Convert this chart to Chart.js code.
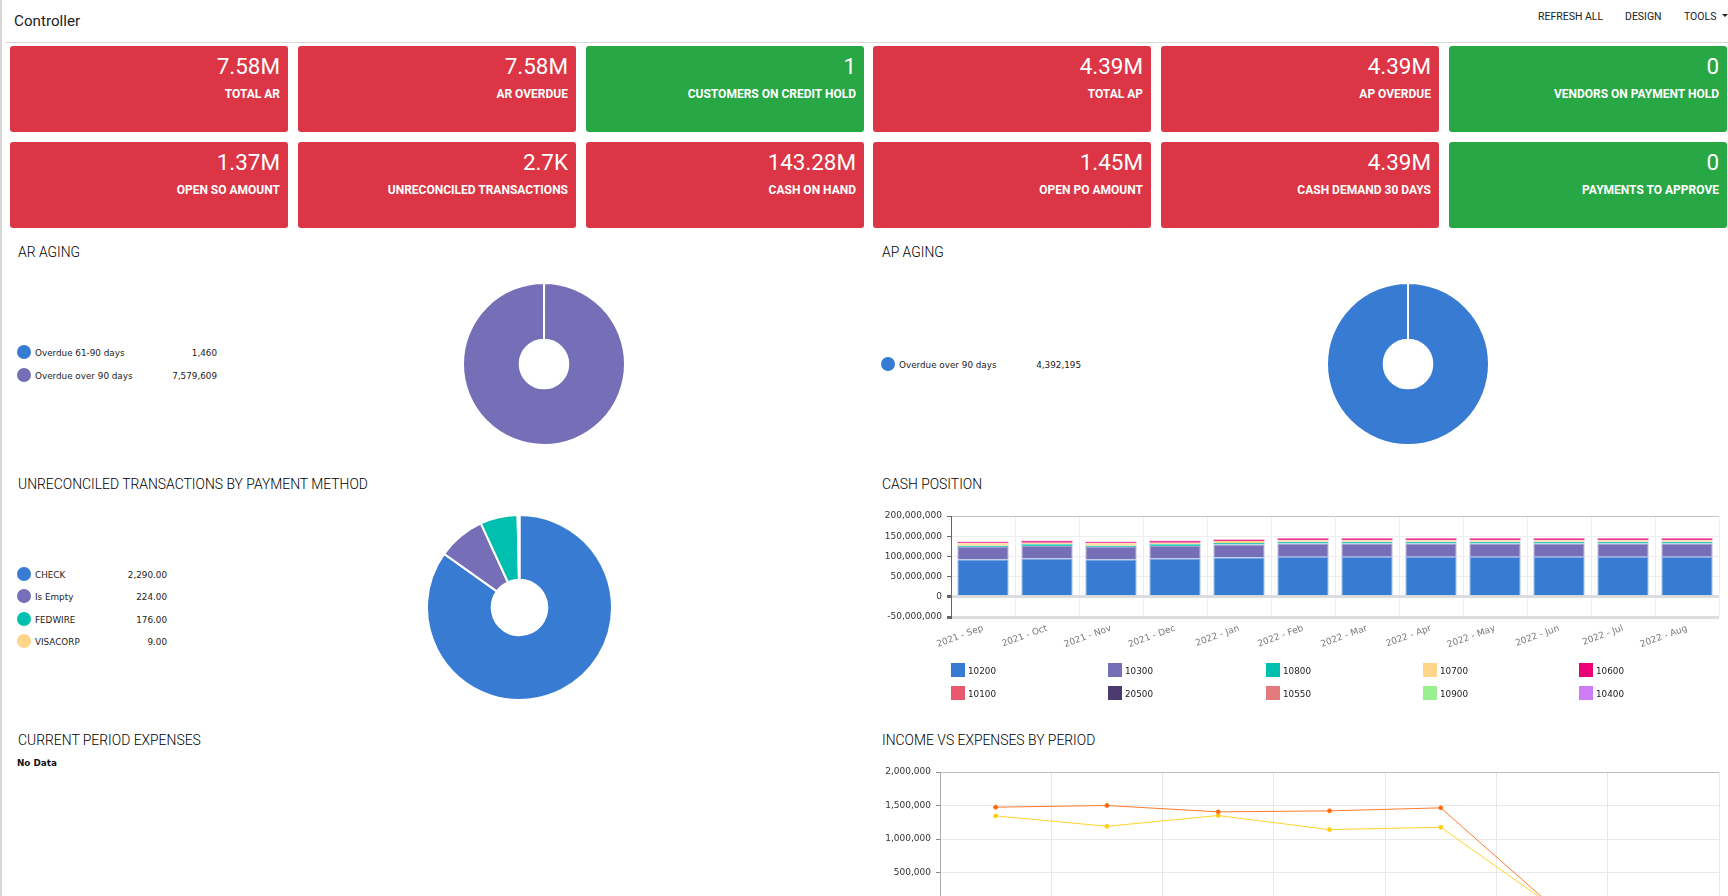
<!DOCTYPE html>
<html>
<head>
<meta charset="utf-8">
<title>Controller</title>
<script src="https://cdn.jsdelivr.net/npm/chart.js@4"></script>
<style>
  html, body { margin: 0; padding: 0; background: #fff; overflow: hidden; }
  body { width: 1728px; height: 896px; position: relative; font-family: Roboto, sans-serif; color: #222; }
  .abs { position: absolute; white-space: nowrap; }
  #leftEdge { left: 0; top: 0; width: 2px; height: 896px; background: #d6d6d6; }
  #headLine { left: 5px; top: 42px; width: 1723px; height: 1px; background: #d8d8d8; }
  #pageTitle { left: 14px; top: 12px; font-size: 15.2px; line-height: 19px; }
  .menu { top: 10px; font-size: 10.5px; line-height: 13px; }
  .caret { left: 1722px; top: 14px; width: 0; height: 0; border-left: 3px solid transparent; border-right: 3px solid transparent; border-top: 3px solid #222; }
  .card { width: 278px; height: 86px; border-radius: 3px; color: #fff; text-align: right; }
  .card .val { position: absolute; right: 8px; top: 7px; font-size: 22.4px; line-height: 27px; }
  .card .lab { position: absolute; right: 8px; top: 42px; font-size: 12px; line-height: 13px; font-weight: 700; }
  .secTitle { font-size: 13.9px; line-height: 16px; font-weight: 300; color: #000; }
  .dot { width: 14px; height: 14px; border-radius: 50%; }
  .legText { font-family: "DejaVu Sans", sans-serif; font-size: 8.8px; line-height: 12px; color: #222; }
  .box { width: 14px; height: 14px; }
  canvas { position: absolute; }
</style>
</head>
<body>
<div class="abs" id="leftEdge"></div>
<div class="abs" id="headLine"></div>
<div class="abs" id="pageTitle">Controller</div>
<div class="abs menu" style="left:1538px">REFRESH ALL</div>
<div class="abs menu" style="left:1625px">DESIGN</div>
<div class="abs menu" style="left:1684px">TOOLS</div>
<div class="abs caret"></div>

<div class="abs secTitle" style="left:18px;top:244px">AR AGING</div>
<div class="abs secTitle" style="left:882px;top:244px">AP AGING</div>
<div class="abs secTitle" style="left:18px;top:476px">UNRECONCILED TRANSACTIONS BY PAYMENT METHOD</div>
<div class="abs secTitle" style="left:882px;top:476px">CASH POSITION</div>
<div class="abs secTitle" style="left:18px;top:732px">CURRENT PERIOD EXPENSES</div>
<div class="abs secTitle" style="left:882px;top:732px">INCOME VS EXPENSES BY PERIOD</div>
<div class="abs legText" style="left:17px;top:757px;font-weight:700;color:#111">No Data</div>

<canvas id="arChart" width="164" height="164" style="left:462px;top:282px"></canvas>
<canvas id="apChart" width="164" height="164" style="left:1326px;top:282px"></canvas>
<canvas id="payChart" width="187" height="187" style="left:426px;top:514px"></canvas>
<canvas id="cashChart" width="868" height="160" style="left:860px;top:505px"></canvas>
<canvas id="incomeChart" width="868" height="190" style="left:860px;top:760px"></canvas>

<script>
const cardValues = ["7.58M", "7.58M", "1", "4.39M", "4.39M", "0", "1.37M", "2.7K", "143.28M", "1.45M", "4.39M", "0"]
const cardLabels = ["TOTAL AR", "AR OVERDUE", "CUSTOMERS ON CREDIT HOLD", "TOTAL AP", "AP OVERDUE", "VENDORS ON PAYMENT HOLD",
  "OPEN SO AMOUNT", "UNRECONCILED TRANSACTIONS", "CASH ON HAND", "OPEN PO AMOUNT", "CASH DEMAND 30 DAYS", "PAYMENTS TO APPROVE"]
const cardGreen = [false, false, true, false, false, true, false, false, false, false, false, true]

const arLabels = ["Overdue 61-90 days", "Overdue over 90 days"]
const arValues = [1460, 7579609]
const apLabels = ["Overdue over 90 days"]
const apValues = [4392195]
const payLabels = ["CHECK", "Is Empty", "FEDWIRE", "VISACORP"]
const payValues = [2290, 224, 176, 9]

const periods = ["2021 - Sep", "2021 - Oct", "2021 - Nov", "2021 - Dec", "2022 - Jan", "2022 - Feb",
  "2022 - Mar", "2022 - Apr", "2022 - May", "2022 - Jun", "2022 - Jul", "2022 - Aug"]
const accounts = ["10200", "10300", "10800", "10700", "10600", "10100", "20500", "10550", "10900", "10400"]
const cash10200 = [92.4, 94.9, 92.4, 94.9, 97.4, 99, 99, 99, 99, 99, 99, 99].map(v => v * 1000000)
const cash10300 = [30.6, 30.6, 30.6, 30.6, 32, 33, 33, 33, 33, 33, 33, 33].map(v => v * 1000000)
const cash10800 = [3.5, 4.5, 3.5, 4.5, 3.5, 4, 4, 4, 4, 4, 4, 4].map(v => v * 1000000)
const cash10700 = [6, 4, 6, 4, 5, 4.2, 4.2, 4.2, 4.2, 4.2, 4.2, 4.2].map(v => v * 1000000)
const cash10600 = [4, 5, 4, 5, 4, 4.5, 4.5, 4.5, 4.5, 4.5, 4.5, 4.5].map(v => v * 1000000)
const cash10100 = [0.2, 0.2, 0.2, 0.2, 0.2, 0.2, 0.2, 0.2, 0.2, 0.2, 0.2, 0.2].map(v => v * 1000000)
const cash20500 = [0.1, 0.1, 0.1, 0.1, 0.1, 0.1, 0.1, 0.1, 0.1, 0.1, 0.1, 0.1].map(v => v * 1000000)
const cash10550 = [0.1, 0.1, 0.1, 0.1, 0.1, 0.1, 0.1, 0.1, 0.1, 0.1, 0.1, 0.1].map(v => v * 1000000)
const cash10900 = [0, 0, 0, 0, 0, 0, 0, 0, 0, 0, 0, 0]
const cash10400 = [0, 0, 0, 0, 0, 0, 0, 0, 0, 0, 0, 0]
const cashSeries = [cash10200, cash10300, cash10800, cash10700, cash10600, cash10100, cash20500, cash10550, cash10900, cash10400]

const incomePeriods = ["1", "2", "3", "4", "5", "6", "7"]
const incomeValues = [1475000, 1500000, 1405000, 1420000, 1465000, 0, 0]
const expenseValues = [1345000, 1190000, 1350000, 1140000, 1175000, 0, 0]

const palette = ["#377bd3", "#776eb8", "#00bfae", "#ffd58a", "#ec0077", "#e8596f", "#4a3a6e", "#e37a7d", "#98f08f", "#cc7cf5"]
const edgePalette = ["#7aa6e2", "#a29bd0", "#00bfae", "#ffd58a", "#ec1a85", "#ec1a85", "#ec1a85", "#ec1a85", "#98f08f", "#cc7cf5"]

const cardColumns = [10, 298, 586, 873, 1161, 1449]
const cardRows = [46, 142]
const tickFont = { family: "'DejaVu Sans', sans-serif", size: 9 }

function addDiv(className, left, top, text) {
  let div = document.createElement("div")
  div.className = "abs " + className
  div.style.left = left + "px"
  div.style.top = top + "px"
  if (text !== undefined) div.textContent = text
  document.body.appendChild(div)
  return div
}

function drawCards() {
  for (let i = 0; i < cardValues.length; i++) {
    let card = addDiv("card", cardColumns[i % 6], cardRows[Math.floor(i / 6)])
    card.style.background = cardGreen[i] ? "#28a745" : "#dc3545"
    let val = document.createElement("div")
    val.className = "val"
    val.textContent = cardValues[i]
    let lab = document.createElement("div")
    lab.className = "lab"
    lab.textContent = cardLabels[i]
    card.appendChild(val)
    card.appendChild(lab)
  }
}

function drawPieLegend(labels, values, left, valueRight, rows, decimals) {
  for (let i = 0; i < labels.length; i++) {
    let dot = addDiv("dot", left, rows[i] - 7)
    dot.style.background = palette[i]
    addDiv("legText", left + 18, rows[i] - 5, labels[i])
    let text = values[i].toLocaleString("en-US", { minimumFractionDigits: decimals, maximumFractionDigits: decimals })
    let val = addDiv("legText", 0, rows[i] - 5, text)
    val.style.left = "auto"
    val.style.right = (1728 - valueRight) + "px"
  }
}

function drawDoughnut(id, labels, values) {
  new Chart(document.getElementById(id), {
    type: "doughnut",
    data: {
      labels: labels,
      datasets: [{ data: values, backgroundColor: palette.slice(0, labels.length), borderColor: "#fff", borderWidth: 2 }],
    },
    options: {
      responsive: false,
      animation: false,
      cutout: "30%",
      plugins: { legend: { display: false }, tooltip: { enabled: false } },
    },
  })
}

function drawCashLegend() {
  let columns = [951, 1108, 1266, 1423, 1579]
  let rows = [663, 686]
  for (let i = 0; i < accounts.length; i++) {
    let x = columns[i % 5]
    let y = rows[Math.floor(i / 5)]
    let box = addDiv("box", x, y)
    box.style.background = palette[i]
    addDiv("legText", x + 17, y + 2, accounts[i])
  }
}

function drawCashChart() {
  let datasets = []
  for (let i = 0; i < accounts.length; i++) {
    datasets.push({
      label: accounts[i],
      data: cashSeries[i],
      backgroundColor: palette[i],
      borderColor: edgePalette[i],
      borderWidth: 1,
      barPercentage: 0.8,
      categoryPercentage: 1,
    })
  }
  new Chart(document.getElementById("cashChart"), {
    type: "bar",
    data: { labels: periods, datasets: datasets },
    options: {
      responsive: false,
      animation: false,
      layout: { padding: { top: 11, right: 9, left: 0, bottom: 0 } },
      plugins: { legend: { display: false }, tooltip: { enabled: false } },
      scales: {
        x: {
          stacked: true,
          border: { display: false },
          grid: { color: "#eeeeee", drawTicks: false },
          ticks: { font: tickFont, color: "#777", minRotation: 20, maxRotation: 20, autoSkip: false, padding: 6 },
          afterFit: function (scale) { scale.height = 48 },
        },
        y: {
          stacked: true,
          min: -50000000,
          max: 200000000,
          border: { color: "#666" },
          grid: {
            color: function (c) {
              if (c.tick.value === 0 || c.tick.value === -50000000) return "#dddddd"
              if (c.tick.value === 200000000) return "#c4c4c4"
              return "#eeeeee"
            },
            lineWidth: function (c) {
              if (c.tick.value === 0 || c.tick.value === -50000000) return 3
              return 1
            },
            tickColor: "#666",
            tickLength: 4,
          },
          ticks: { font: tickFont, color: "#333", stepSize: 50000000, padding: 5, callback: v => v.toLocaleString("en-US") },
          afterFit: function (scale) { scale.width = 91 },
        },
      },
    },
  })
}

function drawIncomeChart() {
  new Chart(document.getElementById("incomeChart"), {
    type: "line",
    data: {
      labels: incomePeriods,
      datasets: [
        { label: "Income", data: incomeValues, borderColor: "#ff7a2f", backgroundColor: "#ff6600", borderWidth: 1, pointRadius: 2, tension: 0 },
        { label: "Expenses", data: expenseValues, borderColor: "#ffd42a", backgroundColor: "#ffcc00", borderWidth: 1, pointRadius: 2, tension: 0 },
      ],
    },
    options: {
      responsive: false,
      animation: false,
      layout: { padding: { top: 12, right: 9, left: 0, bottom: 0 } },
      plugins: { legend: { display: false }, tooltip: { enabled: false } },
      scales: {
        x: {
          offset: true,
          border: { display: false },
          grid: { color: "#e8e8e8", offset: true, drawTicks: false },
          ticks: { display: false },
          afterFit: function (scale) { scale.height = 44 },
        },
        y: {
          min: 0,
          max: 2000000,
          border: { color: "#aaa" },
          grid: {
            color: function (c) { return c.tick.value === 2000000 ? "#bdbdbd" : "#e8e8e8" },
            tickColor: "#888",
            tickLength: 4,
          },
          ticks: { font: tickFont, color: "#333", stepSize: 500000, padding: 5, callback: v => v.toLocaleString("en-US") },
          afterFit: function (scale) { scale.width = 80 },
        },
      },
    },
  })
}

drawCards()
drawPieLegend(arLabels, arValues, 17, 217, [352, 375], 0)
drawPieLegend(apLabels, apValues, 881, 1081, [364], 0)
drawPieLegend(payLabels, payValues, 17, 167, [574, 596, 619, 641], 2)
drawCashLegend()
drawDoughnut("arChart", arLabels, arValues)
drawDoughnut("apChart", apLabels, apValues)
drawDoughnut("payChart", payLabels, payValues)
drawCashChart()
drawIncomeChart()
</script>
</body>
</html>
